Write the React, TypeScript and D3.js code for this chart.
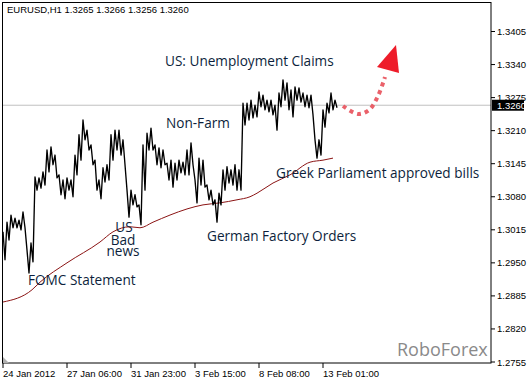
import React from 'react';
import * as d3 from 'd3';

// ---- Data ----
const header = 'EURUSD,H1  1.3265 1.3266 1.3256 1.3260';
const currentPrice = 1.326;
// hourly price samples every 4 bars: highs and lows
const priceHigh = [
  1.3011, 1.3030, 1.3044, 1.3038, 1.3034, 1.3050, 1.2975, 1.2989, 1.3119, 1.3117,
  1.3129, 1.3172, 1.3178, 1.3162, 1.3123, 1.3113, 1.3117, 1.3113, 1.3162, 1.3202,
  1.3231, 1.3211, 1.3182, 1.3152, 1.3113, 1.3137, 1.3143, 1.3202, 1.3211, 1.3211,
  1.3192, 1.3093, 1.3093, 1.3084, 1.3064, 1.3182, 1.3205, 1.3215, 1.3182, 1.3176,
  1.3172, 1.3146, 1.3152, 1.3146, 1.3152, 1.3148, 1.3172, 1.3186, 1.3113, 1.3156,
  1.3152, 1.3103, 1.3093, 1.3074, 1.3087, 1.3133, 1.3139, 1.3133, 1.3143, 1.3133,
  1.3264, 1.3264, 1.3270, 1.3260, 1.3286, 1.3280, 1.3270, 1.3270, 1.3260, 1.3284,
  1.3310, 1.3304, 1.3290, 1.3296, 1.3294, 1.3284, 1.3280, 1.3280, 1.3192, 1.3192,
  1.3251, 1.3264, 1.3284, 1.3270,
];
const priceLow = [
  1.2956, 1.2995, 1.3019, 1.3019, 1.3015, 1.3019, 1.2930, 1.2952, 1.3093, 1.3097,
  1.3103, 1.3129, 1.3143, 1.3117, 1.3084, 1.3076, 1.3093, 1.3080, 1.3123, 1.3152,
  1.3192, 1.3172, 1.3143, 1.3093, 1.3076, 1.3109, 1.3113, 1.3152, 1.3172, 1.3162,
  1.3143, 1.3040, 1.3064, 1.3060, 1.3025, 1.3093, 1.3172, 1.3172, 1.3143, 1.3137,
  1.3143, 1.3113, 1.3099, 1.3113, 1.3127, 1.3123, 1.3123, 1.3143, 1.3068, 1.3103,
  1.3099, 1.3074, 1.3064, 1.3030, 1.3064, 1.3093, 1.3107, 1.3103, 1.3093, 1.3093,
  1.3221, 1.3231, 1.3235, 1.3237, 1.3257, 1.3251, 1.3247, 1.3241, 1.3211, 1.3257,
  1.3270, 1.3251, 1.3237, 1.3270, 1.3266, 1.3257, 1.3255, 1.3241, 1.3156, 1.3162,
  1.3217, 1.3245, 1.3251, 1.3255,
];
const SAMPLE_BARS = 4;
// moving average
const maBars = [0, 29, 37, 64, 97, 110, 127, 137, 150, 167, 184, 200, 217, 234, 247, 254, 270, 287, 307, 320, 330];
const maValues = [1.2873, 1.2897, 1.2912, 1.2950, 1.2991, 1.3011, 1.3021, 1.3019, 1.3030, 1.3044, 1.3056,
  1.3064, 1.3068, 1.3074, 1.3080, 1.3087, 1.3107, 1.3123, 1.3148, 1.3152, 1.3156];
// forecast arrow
const forecastBars = [340, 355, 366, 375, 382];
const forecastPrices = [1.32585, 1.32428, 1.32506, 1.32782, 1.33155];
const arrowHeadBars = [374, 393, 396];
const arrowHeadPrices = [1.33352, 1.33785, 1.33234];

const yTicks = [1.3405, 1.334, 1.3275, 1.321, 1.3145, 1.308, 1.3015, 1.295, 1.2885, 1.282, 1.2755];
const xTickBars = [0, 64, 128, 192, 256, 320];
const xTickLabels = ['24 Jan 2012', '27 Jan 06:00', '31 Jan 23:00', '3 Feb 15:00', '8 Feb 08:00', '13 Feb 01:00'];

// ---- Layout ----
const W = 530, H = 383;
const L = 3, R = 491, T = 3, B = 363;

export default function App() {
  const x = d3.scaleLinear().domain([0, 488]).range([L, R]);
  const y = d3.scaleLinear().domain([1.2755, 1.3405]).range([362, 31.5]);

  // high at the start of each 4-bar sample, low in its middle
  let pricePath = '';
  priceHigh.forEach((h, i) => {
    const b0 = i * SAMPLE_BARS;
    pricePath += (i === 0 ? 'M' : 'L') + x(b0) + ',' + y(h) + 'L' + x(b0 + SAMPLE_BARS / 2) + ',' + y(priceLow[i]);
  });

  const maPath = d3.line<number>().x((_, i) => x(maBars[i])).y((v) => y(v)).curve(d3.curveMonotoneX)(maValues) || '';
  const fcPath = d3.line<number>().x((_, i) => x(forecastBars[i])).y((v) => y(v)).curve(d3.curveCatmullRom)(forecastPrices) || '';
  const headPts = arrowHeadBars.map((b, i) => `${x(b)},${y(arrowHeadPrices[i])}`).join(' ');

  const axisFont = { fontFamily: 'Liberation Sans, Arial, sans-serif', fontSize: 9.5, fill: '#000' } as const;
  const annFont = { fontFamily: 'Open Sans, sans-serif', fontSize: 13.6, fill: '#0d1f3c' } as const;
  const yCur = y(currentPrice);

  return (
    <svg width={W} height={H} style={{ position: 'absolute', left: 0, top: 0, background: '#fff' }}>
      <rect x={0} y={0} width={W} height={H} fill="#fff" />
      {/* current price line */}
      <line x1={L} x2={R} y1={yCur} y2={yCur} stroke="#c0c0c0" strokeWidth={1} />
      {/* moving average */}
      <path d={maPath} fill="none" stroke="#8b1414" strokeWidth={1} />
      {/* price */}
      <path d={pricePath} fill="none" stroke="#000" strokeWidth={1.35} strokeLinejoin="round" />
      {/* forecast arrow */}
      <path d={fcPath} fill="none" stroke="#e8505a" strokeWidth={4} strokeDasharray="4 4" opacity={0.9} />
      <polygon points={headPts} fill="#ee1c2a" />
      {/* frame */}
      <rect x={L - 0.5} y={T - 0.5} width={R - L + 0.5} height={B - T + 0.5} fill="none" stroke="#000" strokeWidth={1} />
      <polygon points={`${L},${B - 6} ${L},${B} ${L + 6},${B}`} fill="#b0b0b0" />
      {/* y axis */}
      {yTicks.map((t) => (
        <g key={t}>
          <line x1={R} x2={R + 4} y1={y(t)} y2={y(t)} stroke="#000" />
          <text x={R + 6} y={y(t) + 3.5} {...axisFont}>{t.toFixed(4)}</text>
        </g>
      ))}
      <rect x={R + 1} y={yCur - 5.5} width={32} height={11} fill="#000" />
      <text x={R + 6} y={yCur + 3.5} {...axisFont} fill="#fff">{currentPrice.toFixed(4)}</text>
      {/* x axis */}
      {xTickBars.map((b, i) => (
        <g key={b}>
          <line x1={x(b)} x2={x(b)} y1={B} y2={B + 5} stroke="#000" />
          <text x={x(b)} y={377} {...axisFont}>{xTickLabels[i]}</text>
        </g>
      ))}
      {/* header */}
      <text x={7} y={12.5} {...axisFont}>{header}</text>
      {/* annotations */}
      <text x={165} y={66} {...annFont}>US: Unemployment Claims</text>
      <text x={166} y={128} {...annFont}>Non-Farm</text>
      <text x={124} y={232} textAnchor="middle" {...annFont}>US</text>
      <text x={123} y={244.5} textAnchor="middle" {...annFont}>Bad</text>
      <text x={123} y={256} textAnchor="middle" {...annFont}>news</text>
      <text x={28} y={285} {...annFont}>FOMC Statement</text>
      <text x={207} y={241} {...annFont}>German Factory Orders</text>
      <text x={276} y={178} {...annFont}>Greek Parliament approved bills</text>
      <text x={397} y={356} fontFamily="Open Sans, sans-serif" fontSize={18} fill="#8a8a8a">RoboForex</text>
    </svg>
  );
}
